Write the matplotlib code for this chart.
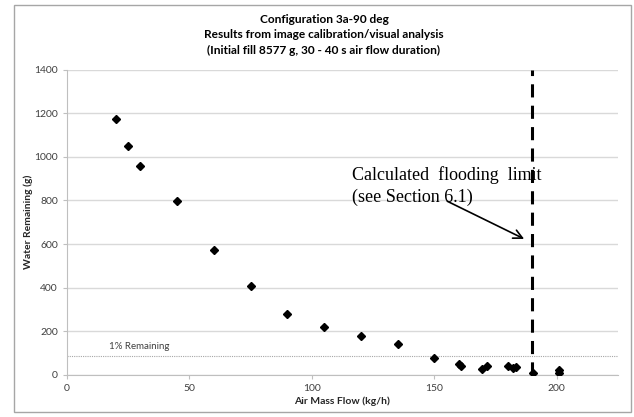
import matplotlib
matplotlib.use('Agg')
from matplotlib import pyplot as plt
from matplotlib.patches import Rectangle

air_flow = [20, 25, 30, 45, 60, 75, 90, 105, 120, 135, 150,
            160, 160.8, 169.5, 171.5, 180, 182, 183.5, 190.5, 201, 201]
water_left = [1175, 1048, 958, 798, 573, 409, 278, 219, 180, 140, 78,
              48, 42, 28, 42, 38, 33, 35, 10, 20, 8]

initial_fill = 8577
one_percent = initial_fill * 0.01
limit_x = [190, 190]
limit_y = [0, 1400]

x_ticks = [0, 50, 100, 150, 200]
y_ticks = [0, 200, 400, 600, 800, 1000, 1200, 1400]

sans = ['Lato', 'DejaVu Sans']
fig = plt.figure(figsize=(6.34, 4.17), dpi=100)
ax = fig.add_axes([0.1057, 0.1014, 0.869, 0.7312])

# outer chart frame
fig.add_artist(Rectangle((13.5 / 634, 1 - 411.5 / 417), 617 / 634, 407 / 417,
                         transform=fig.transFigure, fill=False,
                         edgecolor='#a6a6a6', lw=1.0))

ax.set_xlim(0, 225)
ax.set_ylim(0, 1400)
ax.set_xticks(x_ticks)
ax.set_yticks(y_ticks)
ax.grid(axis='y', color='#d9d9d9', lw=1.0)
ax.set_axisbelow(True)
for s in ['top', 'right']:
    ax.spines[s].set_visible(False)
for s in ['left', 'bottom']:
    ax.spines[s].set_color('#bfbfbf')
ax.tick_params(colors='#bfbfbf', length=3, width=0.8, labelcolor='#404040', labelsize=7.5)
for lab in ax.get_xticklabels() + ax.get_yticklabels():
    lab.set_family(sans)

# 1% remaining reference
ax.axhline(one_percent, color='#a6a6a6', lw=0.8, ls=(0, (1, 1)))
ax.text(17, 128, '1% Remaining', fontsize=7, color='#404040', family=sans, va='center')

ax.plot(air_flow, water_left, 'D', color='black', markersize=4, zorder=3)

# flooding limit
ax.plot(limit_x, limit_y, color='black', lw=2.2, dashes=(4.3, 2.7), zorder=2)
ax.annotate('', xy=(187.7, 618), xytext=(154.3, 802),
            arrowprops=dict(arrowstyle='->', color='black', lw=1.2,
                            mutation_scale=16))
ax.text(116.3, 958, 'Calculated  flooding  limit\n(see Section 6.1)',
        family='Liberation Serif', fontsize=13, va='top', ha='left',
        linespacing=1.35)

ax.set_xlabel('Air Mass Flow (kg/h)', fontsize=7.5, fontweight='bold',
              family=sans, color='#262626', labelpad=3)
ax.set_ylabel('Water Remaining (g)', fontsize=7.5, fontweight='bold',
              family=sans, color='#262626', labelpad=1)

fig.text(324 / 634, 1 - 35 / 417,
         'Configuration 3a-90 deg\nResults from image calibration/visual analysis\n'
         '(Initial fill 8577 g, 30 - 40 s air flow duration)',
         ha='center', va='center', fontsize=8.6, fontweight='bold', family=sans,
         linespacing=1.45)

plt.savefig('out.png', dpi=100)
plt.close()
